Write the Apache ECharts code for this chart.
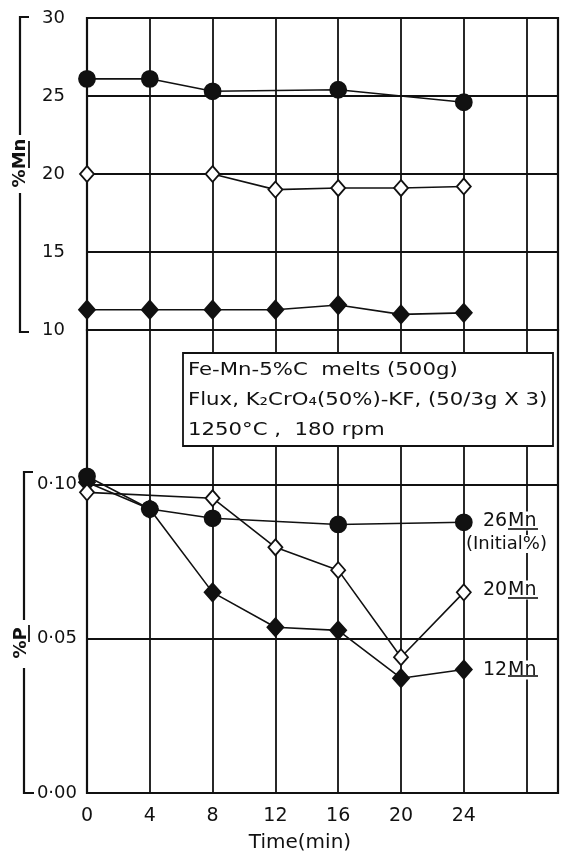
<!DOCTYPE html>
<html><head><meta charset="utf-8">
<script src="https://cdn.jsdelivr.net/npm/echarts@6/dist/echarts.min.js"></script>
<style>html,body{margin:0;padding:0;background:#fff}#c{width:563px;height:854px}</style>
</head><body><div id="c"></div>
<script>
// ---- data ----
const xTickLabels = [0,4,8,12,16,20,24];
const t26 = [0,4,8,16,24];
const mn26 = [26.1,26.1,25.3,25.4,24.6];
const p26 = [0.1026,0.092,0.089,0.087,0.0877];
const t20 = [0,8,12,16,20,24];
const mn20 = [20.0,20.0,19.0,19.1,19.1,19.2];
const p20 = [0.0974,0.0955,0.0796,0.0722,0.044,0.065];
const t12 = [0,4,8,12,16,20,24];
const mn12 = [11.3,11.3,11.3,11.3,11.6,11.0,11.1];
const p12 = [0.1007,0.092,0.065,0.0537,0.0527,0.0372,0.040];
const mnTicks = [10,15,20,25,30];
const pTicks = [0,0.05,0.10];
const boxLines = ['Fe-Mn-5%C  melts (500g)','Flux, K\u2082CrO\u2084(50%)-KF, (50/3g X 3)','1250°C ,  180 rpm'];
const seriesNames = ['26','20','12'];

const zip = (a,b) => a.map((v,i)=>[v,b[i]]);
const FONT = 'DejaVu Sans';
const K = '#111';

const xBase = (gi, showLabels) => ({
  type:'value', gridIndex:gi, min:0, max:30, interval:4,
  axisLine:{show:false}, axisTick:{show:false},
  splitLine:{show:true, lineStyle:{color:K, width:1.8}},
  axisLabel:{show:showLabels, color:K, fontFamily:FONT, fontSize:19, margin:14,
    formatter:v => xTickLabels.includes(v) ? String(v) : ''}
});

const lineStyle = {color:K, width:1.6};
const s = (name, gi, data, sym, size, fill) => ({
  type:'line', name, xAxisIndex:gi, yAxisIndex:gi, data,
  symbol:sym, symbolSize:size, showSymbol:true,
  lineStyle, itemStyle:{color:fill, borderColor:K, borderWidth:1.8},
  animation:false, z: 5
});

const graphic = [
  {type:'rect', z:100, shape:{x:183,y:353,width:370,height:93}, style:{fill:'#fff', stroke:K, lineWidth:1.8}},
  ...boxLines.map((t,i)=>({type:'text', z:101, x:188, y:370+i*30, scaleX:1.18,
     style:{text:t, font:'18px "'+FONT+'"', fill:K, textVerticalAlign:'middle'}})),
  // brackets
  {type:'polyline', z:100, shape:{points:[[29,17],[20,17],[20,135]]}, style:{stroke:K, lineWidth:2.2, fill:null}},
  {type:'polyline', z:100, shape:{points:[[20,193],[20,332],[29,332]]}, style:{stroke:K, lineWidth:2.2, fill:null}},
  {type:'polyline', z:100, shape:{points:[[33,472],[24,472],[24,620]]}, style:{stroke:K, lineWidth:2.2, fill:null}},
  {type:'polyline', z:100, shape:{points:[[24,668],[24,793],[34,793]]}, style:{stroke:K, lineWidth:2.2, fill:null}},
  {type:'group', z:100, x:20, y:163, rotation:Math.PI/2, children:[
    {type:'text', style:{text:'%Mn', x:0, y:0, font:'bold 18px "'+FONT+'"', fill:K, textAlign:'center', textVerticalAlign:'middle'}},
    {type:'line', shape:{x1:-5, y1:9, x2:22, y2:9}, style:{stroke:K, lineWidth:1.8}}
  ]},
  {type:'group', z:100, x:21, y:643, rotation:Math.PI/2, children:[
    {type:'text', style:{text:'%P', x:0, y:0, font:'bold 18px "'+FONT+'"', fill:K, textAlign:'center', textVerticalAlign:'middle'}},
    {type:'line', shape:{x1:1, y1:8, x2:18, y2:8}, style:{stroke:K, lineWidth:1.8}}
  ]},
  // series labels
  ...[[521,529],[590,598],[670,676]].flatMap(([cy,uy],i)=>[
    {type:'text', z:100, x:483, y:cy, style:{text:seriesNames[i], font:'19px "'+FONT+'"', fill:K, textVerticalAlign:'middle', backgroundColor:'#fff'}},
    {type:'text', z:100, x:508, y:cy, style:{text:'Mn', font:'19px "'+FONT+'"', fill:K, textVerticalAlign:'middle', backgroundColor:'#fff', padding:[0,4,0,0]}},
    {type:'line', z:101, shape:{x1:508, y1:uy, x2:538, y2:uy}, style:{stroke:K, lineWidth:1.6}}
  ]),
  {type:'text', z:100, x:466, y:544, style:{text:'(Initial%)', font:'18px "'+FONT+'"', fill:K, textVerticalAlign:'middle', backgroundColor:'#fff'}},
  {type:'text', z:100, x:300, y:843, style:{text:'Time(min)', font:'20px "'+FONT+'"', fill:K, textAlign:'center', textVerticalAlign:'middle'}}
];

const option = {
  backgroundColor:'#fff',
  animation:false,
  grid:[
    {left:87, right:5, top:18, height:312, show:true, borderColor:K, borderWidth:2.2, backgroundColor:'transparent'},
    {left:87, right:5, top:330, bottom:61, show:true, borderColor:K, borderWidth:2.2, backgroundColor:'transparent'}
  ],
  xAxis:[ xBase(0,false), xBase(1,true) ],
  yAxis:[
    {type:'value', gridIndex:0, min:10, max:30, interval:5,
     axisLine:{show:false}, axisTick:{show:false},
     splitLine:{show:true, lineStyle:{color:K, width:1.8}},
     axisLabel:{color:K, fontFamily:FONT, fontSize:18, margin:22,
       formatter:v => mnTicks.includes(v) ? String(v) : ''}},
    {type:'value', gridIndex:1, min:0, max:0.15, interval:0.05,
     axisLine:{show:false}, axisTick:{show:false},
     splitLine:{show:true, lineStyle:{color:K, width:1.8}},
     axisLabel:{color:K, fontFamily:FONT, fontSize:18, margin:10,
       formatter:v => { const m = pTicks.find(p=>Math.abs(p-v)<1e-6); return m===undefined ? '' : m.toFixed(2).replace('.', '·'); }}}
  ],
  series:[
    s('12Mn', 0, zip(t12,mn12), 'diamond', [16,18], K),
    s('20Mn', 0, zip(t20,mn20), 'diamond', [14,16], '#fff'),
    s('26Mn', 0, zip(t26,mn26), 'circle', 16, K),
    s('12Mn', 1, zip(t12,p12), 'diamond', [16,18], K),
    s('20Mn', 1, zip(t20,p20), 'diamond', [14,16], '#fff'),
    s('26Mn', 1, zip(t26,p26), 'circle', 16, K)
  ],
  graphic
};
const chart = echarts.init(document.getElementById('c'), null, {renderer:'canvas'});
chart.setOption(option);
</script>
</body></html>
